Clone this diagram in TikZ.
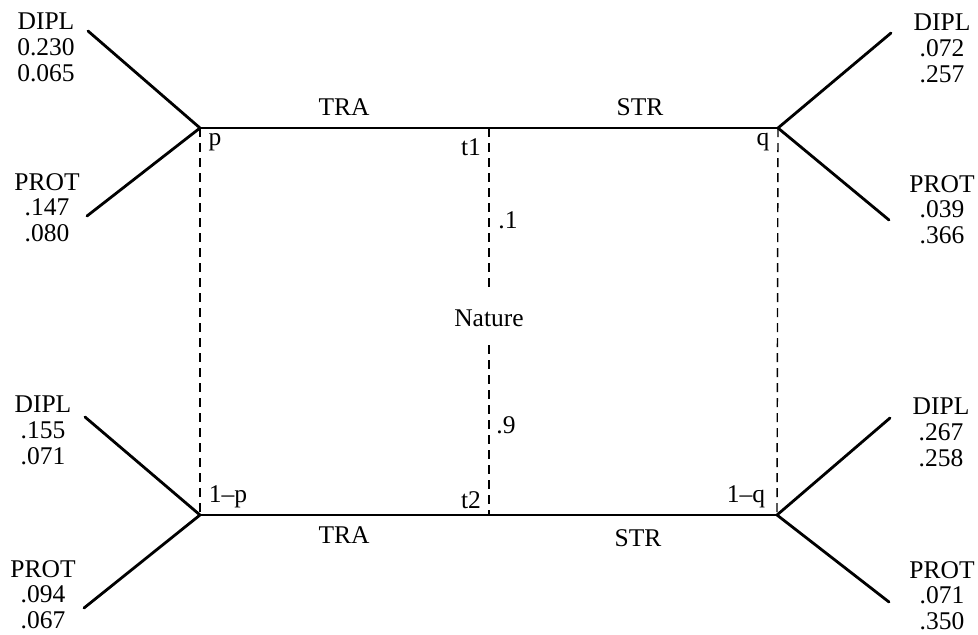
\documentclass[tikz,border=0pt]{standalone}
\usepackage{fontspec}
\setmainfont{Liberation Serif}
\begin{document}
\begin{tikzpicture}[x=1pt,y=-1pt,
  every node/.style={font=\fontsize{25.5}{25.8}\selectfont, inner sep=0pt},
  branch/.style={line width=2.8pt, line cap=round, line join=round},
  infoset/.style={line width=1.4pt, dash pattern=on 9pt off 6pt},
  lbl/.style={anchor=base},
  payoff/.style={anchor=north, align=center}]
\useasboundingbox (0,0) rectangle (978,635);
% decision points
\coordinate (p) at (200,128);
\coordinate (q) at (778,128);
\coordinate (pp) at (200,515);
\coordinate (qq) at (777,515);
\coordinate (t1) at (489,128);
\coordinate (t2) at (489,515);
% branch ends
\coordinate (pD) at (88,31);
\coordinate (pP) at (87,216);
\coordinate (qD) at (891,33);
\coordinate (qP) at (889,220);
\coordinate (ppD) at (85,417);
\coordinate (ppP) at (84,608);
\coordinate (qqD) at (890,418);
\coordinate (qqP) at (889,602);
% solid branches
\draw[branch] (p) -- (t1) -- (q);
\draw[branch] (pp) -- (t2) -- (qq);
\draw[branch] (pD) -- (p) -- (pP);
\draw[branch] (qD) -- (q) -- (qP);
\draw[branch] (ppD) -- (pp) -- (ppP);
\draw[branch] (qqD) -- (qq) -- (qqP);
% nature
\node[inner ysep=18pt] (nat) at (489,318.5) {Nature};
\draw[infoset] (t1) -- (nat.north);
\draw[infoset] (nat.south) -- (t2);
\draw[infoset] (p) -- (pp);
\draw[infoset] (q) -- (qq);
% labels
\node[lbl] (traT) at (344,115) {TRA};
\node[lbl] (strT) at (640,115) {STR};
\node[lbl] (traB) at (344,543) {TRA};
\node[lbl] (strB) at (638,546) {STR};
\node[lbl] (lp) at (215,145) {p};
\node[lbl] (lq) at (763,145) {q};
\node[lbl] (lt1) at (471,155) {t1};
\node[lbl] (lt2) at (471,508) {t2};
\node[lbl] (l1) at (508,228) {.1};
\node[lbl] (l9) at (506,433) {.9};
\node[lbl] (lpp) at (228,502) {1--p};
\node[lbl] (lqq) at (746,502) {1--q};
% payoffs
\node[payoff] (a1) at (46,13) {DIPL\\0.230\\0.065};
\node[payoff] (a2) at (47,173) {PROT\\.147\\.080};
\node[payoff] (b1) at (942,14) {DIPL\\.072\\.257};
\node[payoff] (b2) at (942,175) {PROT\\.039\\.366};
\node[payoff] (c1) at (43,396) {DIPL\\.155\\.071};
\node[payoff] (c2) at (43,560) {PROT\\.094\\.067};
\node[payoff] (d1) at (941,398) {DIPL\\.267\\.258};
\node[payoff] (d2) at (942,561) {PROT\\.071\\.350};
\end{tikzpicture}
\end{document}
